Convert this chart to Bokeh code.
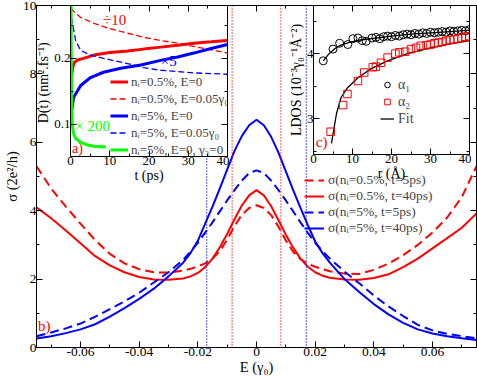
from bokeh.plotting import figure
from bokeh.models import (Range1d, LinearAxis, FixedTicker, Legend, LegendItem,
                          Label, Span, GridBox)
from bokeh.embed import file_html
from bokeh.resources import INLINE

FONT = "serif"
LEG_FONT = "Times New Roman"
RED = "#ff0000"
BLUE = "#0000ff"
GREEN = "#00ff00"

# ---------------- main panel b) ----------------
E = [-0.075, -0.07, -0.065, -0.06, -0.055, -0.05, -0.045, -0.04, -0.035, -0.03,
     -0.025, -0.0225, -0.02, -0.0175, -0.015, -0.0125, -0.01, -0.0075, -0.005, -0.0025,
     0.0,
     0.0025, 0.005, 0.0075, 0.01, 0.0125, 0.015, 0.0175, 0.02, 0.0225, 0.025,
     0.03, 0.035, 0.04, 0.045, 0.05, 0.055, 0.06, 0.065, 0.07, 0.075]
sig_ni05_t5 = [5.3, 4.65, 4.12, 3.62, 3.14, 2.74, 2.46, 2.29, 2.2, 2.19,
               2.25, 2.3, 2.37, 2.46, 2.6, 2.82, 3.15, 3.55, 3.88, 4.08,
               4.16,
               4.08, 3.87, 3.53, 3.13, 2.8, 2.58, 2.45, 2.36, 2.29, 2.23,
               2.16, 2.15, 2.27, 2.45, 2.7, 3.0, 3.36, 3.8, 4.4, 5.3]
sig_ni05_t40 = [4.1, 3.78, 3.42, 3.05, 2.67, 2.4, 2.2, 2.06, 1.99, 1.98,
                2.02, 2.08, 2.18, 2.35, 2.6, 2.93, 3.32, 3.75, 4.15, 4.45,
                4.6,
                4.45, 4.13, 3.72, 3.3, 2.92, 2.6, 2.36, 2.2, 2.1, 2.04,
                1.99, 1.98, 2.03, 2.14, 2.35, 2.6, 2.9, 3.2, 3.5, 3.92]
sig_ni5_t5 = [0.33, 0.44, 0.56, 0.7, 0.9, 1.12, 1.35, 1.6, 1.9, 2.2,
              2.56, 2.8, 3.06, 3.36, 3.66, 3.98, 4.3, 4.6, 4.88, 5.1,
              5.18,
              5.1, 4.88, 4.6, 4.3, 3.98, 3.66, 3.35, 3.06, 2.82, 2.6,
              2.22, 1.88, 1.52, 1.2, 0.92, 0.66, 0.5, 0.4, 0.33, 0.27]
sig_ni5_t40 = [0.26, 0.33, 0.42, 0.53, 0.68, 0.9, 1.15, 1.42, 1.72, 2.08,
               2.48, 2.76, 3.12, 3.62, 4.12, 4.65, 5.2, 5.75, 6.18, 6.5,
               6.66,
               6.5, 6.16, 5.7, 5.15, 4.6, 4.08, 3.58, 3.1, 2.76, 2.48,
               2.0, 1.62, 1.27, 0.97, 0.72, 0.53, 0.41, 0.33, 0.27, 0.22]
E_red_dotted = [-0.0083, 0.0083]
E_blue_dotted = [-0.017, 0.017]
main_xticks = [-0.06, -0.04, -0.02, 0.0, 0.02, 0.04, 0.06]
main_xtick_labels = ["-0.06", "-0.04", "-0.02", "0", "0.02", "0.04", "0.06"]
main_xminor = [-0.07, -0.05, -0.03, -0.01, 0.01, 0.03, 0.05, 0.07]
main_yticks = [0, 2, 4, 6, 8, 10]
main_yminor = [1, 3, 5, 7, 9]
main_legend_labels = ["σ(nᵢ=0.5%, t=5ps)", "σ(nᵢ=0.5%, t=40ps)",
                      "σ(nᵢ=5%, t=5ps)", "σ(nᵢ=5%, t=40ps)"]

# ---------------- inset a) D(t) ----------------
t_ni05_E0 = [0.1, 0.3, 0.6, 1.0, 2.0, 3.3, 6.0, 10.0, 14.6, 18.6, 23.0, 27.3, 31.4, 35.8, 40.0]
D_ni05_E0 = [0.152, 0.175, 0.187, 0.194, 0.198, 0.2, 0.205, 0.209, 0.211, 0.214, 0.217, 0.22, 0.223, 0.225, 0.227]
t_ni05_E005 = [0.1, 1.0, 2.6, 6.0, 10.0, 14.6, 18.6, 23.0, 27.3, 31.4, 35.8, 40.0]
D_ni05_E005 = [0.276, 0.27, 0.262, 0.253, 0.245, 0.238, 0.232, 0.227, 0.223, 0.218, 0.213, 0.208]
t_ni5_E0 = [0.3, 0.8, 2.6, 5.1, 8.4, 12.8, 17.9, 23.0, 27.3, 31.4, 35.8, 40.0]
D_ni5_E0 = [0.121, 0.141, 0.159, 0.171, 0.179, 0.185, 0.19, 0.197, 0.202, 0.208, 0.215, 0.221]
t_ni5_E005 = [0.2, 0.6, 1.3, 2.6, 5.1, 8.4, 14.6, 18.6, 23.0, 31.4, 40.0]
D_ni5_E005 = [0.262, 0.25, 0.227, 0.212, 0.205, 0.2, 0.192, 0.186, 0.182, 0.178, 0.176]
t_ni5_g3 = [0.15, 0.2, 0.3, 0.45, 0.7, 1.3, 2.6, 4.3, 6.0, 9.0]
D_ni5_g3 = [0.29, 0.2, 0.13, 0.1, 0.088, 0.079, 0.073, 0.069, 0.067, 0.066]
a_xticks = [0, 10, 20, 30, 40]
a_xminor = [5, 15, 25, 35]
a_yticks = [0.1, 0.2]
a_yminor = [0.15, 0.25]
a_legend_labels = ["nᵢ=0.5%, E=0", "nᵢ=0.5%, E=0.05γ₀", "nᵢ=5%, E=0",
                   "nᵢ=5%, E=0.05γ₀", "nᵢ=5%, E=0, γ₃=0"]

# ---------------- inset c) LDOS ----------------
r_alpha1 = [2.5, 5, 6.7, 8.8, 10.1, 11.4, 12.5, 13.5, 15, 16, 17, 18, 19, 20, 21, 22, 23,
            24, 25, 26, 27, 28, 29, 30, 31, 32, 33, 34, 35, 36, 37, 38, 39, 40]
ldos_alpha1 = [3.89, 4.07, 4.16, 4.14, 4.23, 4.24, 4.2, 4.19, 4.24, 4.25, 4.23, 4.26, 4.27,
               4.26, 4.28, 4.27, 4.29, 4.3, 4.29, 4.31, 4.3, 4.32, 4.31, 4.33, 4.32, 4.33,
               4.34, 4.33, 4.35, 4.34, 4.35, 4.36, 4.35, 4.37]
r_alpha2 = [4.4, 7.6, 8.7, 11.4, 13, 15.2, 16, 17.3, 19, 21, 22, 23.5, 25, 26.3, 27.5, 29,
            30, 31, 32, 33, 34, 35, 36, 37, 38, 39, 40]
ldos_alpha2 = [2.8, 3.21, 3.38, 3.58, 3.71, 3.79, 3.8, 3.86, 3.94, 4.0, 4.02, 4.03, 4.07,
               4.09, 4.12, 4.13, 4.14, 4.16, 4.17, 4.18, 4.2, 4.21, 4.22, 4.23, 4.24, 4.26, 4.27]
r_fit1 = [2.5, 4, 5.5, 7, 9, 12, 16, 20, 25, 30, 35, 40]
ldos_fit1 = [3.89, 4.0, 4.08, 4.13, 4.17, 4.21, 4.24, 4.27, 4.3, 4.32, 4.34, 4.36]
r_fit2 = [4.6, 5.9, 7.1, 8.8, 11.4, 14.8, 19, 24.1, 30, 35, 40]
ldos_fit2 = [2.62, 3.08, 3.33, 3.48, 3.63, 3.77, 3.89, 4.0, 4.09, 4.15, 4.2]
c_xticks = [0, 10, 20, 30, 40]
c_xminor = [5, 15, 25, 35]
c_yticks = [3, 4]
c_yminor = [2.5, 3.5, 4.5]
c_legend_labels = ["α₁", "α₂", "Fit"]


def mirror_axis(p, side, ticks, length):
    # label-free axis: only (minor) tick marks, pointing into the frame
    ax = LinearAxis(ticker=FixedTicker(ticks=[], minor_ticks=ticks),
                    minor_tick_in=length, minor_tick_out=0,
                    major_tick_in=0, major_tick_out=0,
                    major_label_standoff=0,
                    axis_line_color="black", minor_tick_line_color="black")
    p.add_layout(ax, side)


def setup_axes(p, xticks, xminor, yticks, yminor, xlabel, ylabel,
               lab_size="13px", title_size="14px"):
    if "frame_align" in p.properties():
        p.frame_align = False
    bx, ly = p.below[0], p.left[0]
    bx.ticker = FixedTicker(ticks=xticks, minor_ticks=xminor)
    ly.ticker = FixedTicker(ticks=yticks, minor_ticks=yminor)
    for ax in (bx, ly):
        ax.major_tick_in = 6
        ax.major_tick_out = 0
        ax.minor_tick_in = 3
        ax.minor_tick_out = 0
        ax.axis_line_color = "black"
        ax.major_tick_line_color = "black"
        ax.minor_tick_line_color = "black"
        ax.major_label_text_font = FONT
        ax.major_label_text_font_size = lab_size
        ax.major_label_text_color = "black"
        ax.axis_label_text_font = FONT
        ax.axis_label_text_font_style = "normal"
        ax.axis_label_text_font_size = title_size
        ax.axis_label_text_color = "black"
        ax.major_label_standoff = 0
        ax.axis_label_standoff = 0
    bx.axis_label = xlabel
    ly.axis_label = ylabel
    p.grid.grid_line_color = None
    p.outline_line_color = "black"
    mirror_axis(p, "right", yticks, 6)
    mirror_axis(p, "right", yminor, 3)
    mirror_axis(p, "above", xticks, 6)
    mirror_axis(p, "above", xminor, 3)
    return bx, ly


def make_legend(items, loc, size, gw, row_h, standoff=4):
    return Legend(items=items, location=loc, background_fill_alpha=0,
                  border_line_color=None, label_text_font=LEG_FONT,
                  label_text_font_size=size, glyph_width=gw, glyph_height=row_h,
                  label_height=row_h, spacing=0, padding=0, margin=0,
                  label_standoff=standoff)


# ----- main figure -----
p = figure(width=477, height=377, x_range=Range1d(-0.075, 0.075), y_range=Range1d(0, 10),
           output_backend="svg", toolbar_location=None,
           min_border_left=30, min_border_right=1, min_border_top=5, min_border_bottom=28)
p.background_fill_color = "white"
p.border_fill_color = "white"
bx, ly = setup_axes(p, main_xticks, main_xminor, main_yticks, main_yminor,
                    "E (γ₀)", "σ (2e²/h)", lab_size="13.5px", title_size="14.5px")
bx.major_label_overrides = dict(zip(main_xticks, main_xtick_labels))

for e in E_red_dotted:
    p.add_layout(Span(location=e, dimension="height", line_color=RED,
                      line_dash="1 2", line_width=1.3))
for e in E_blue_dotted:
    p.add_layout(Span(location=e, dimension="height", line_color=BLUE,
                      line_dash="1 2", line_width=1.3))

m1 = p.line(E, sig_ni05_t5, line_color=RED, line_width=2, line_dash="9 5")
m2 = p.line(E, sig_ni05_t40, line_color=RED, line_width=2)
m3 = p.line(E, sig_ni5_t5, line_color=BLUE, line_width=2, line_dash="9 5")
m4 = p.line(E, sig_ni5_t40, line_color=BLUE, line_width=2)
p.add_layout(make_legend([LegendItem(label=l, renderers=[r]) for l, r in
                          zip(main_legend_labels, [m1, m2, m3, m4])],
                         (268, 111), "13.5px", 20, 14))
p.add_layout(Label(x=-0.0745, y=0.4, text="b)", text_color=RED, text_font=FONT,
                   text_font_size="15px"))

# ----- inset a) -----
pa = figure(width=203, height=187, x_range=Range1d(0, 40), y_range=Range1d(0.0515, 0.28),
            output_backend="svg", toolbar_location=None,
            min_border_left=44, min_border_right=2, min_border_top=5, min_border_bottom=31)
pa.border_fill_color = None
pa.background_fill_color = "white"
pa.margin = (0, 0, 0, 26)
setup_axes(pa, a_xticks, a_xminor, a_yticks, a_yminor, "t (ps)", "D(t)  (nm².fs⁻¹)")

a1 = pa.line(t_ni05_E0, D_ni05_E0, line_color=RED, line_width=3)
a2 = pa.line(t_ni05_E005, D_ni05_E005, line_color=RED, line_width=1.3, line_dash="6 3")
a3 = pa.line(t_ni5_E0, D_ni5_E0, line_color=BLUE, line_width=3)
a4 = pa.line(t_ni5_E005, D_ni5_E005, line_color=BLUE, line_width=1.3, line_dash="6 3")
a5 = pa.line(t_ni5_g3, D_ni5_g3, line_color=GREEN, line_width=3)
pa.add_layout(make_legend([LegendItem(label=l, renderers=[r]) for l, r in
                           zip(a_legend_labels, [a1, a2, a3, a4, a5])],
                          (40, -2), "13px", 18, 17, 3))
pa.add_layout(Label(x=8.3, y=0.246, text="÷10", text_color=RED, text_font=FONT,
                    text_font_size="15px"))
pa.add_layout(Label(x=23, y=0.184, text="×5", text_color=BLUE, text_font=FONT,
                    text_font_size="15px"))
pa.add_layout(Label(x=1.2, y=0.085, text="× 200", text_color=GREEN, text_font=FONT,
                    text_font_size="15px"))
pa.add_layout(Label(x=0.4, y=0.053, text="a)", text_color=RED, text_font=FONT,
                    text_font_size="14px"))

# ----- inset c) -----
pc = figure(width=218, height=184, x_range=Range1d(0, 40), y_range=Range1d(2.45, 4.74),
            output_backend="svg", toolbar_location=None,
            min_border_left=60, min_border_right=2, min_border_top=5, min_border_bottom=30)
pc.border_fill_color = None
pc.background_fill_color = "white"
pc.margin = (0, 0, 0, 253)
setup_axes(pc, c_xticks, c_xminor, c_yticks, c_yminor, "r (Å)", "LDOS (10⁻³γ₀⁻¹Å⁻²)")

pc.line(r_fit1, ldos_fit1, line_color="black", line_width=1.3)
c3 = pc.line(r_fit2, ldos_fit2, line_color="black", line_width=1.3)
c1 = pc.scatter(r_alpha1, ldos_alpha1, marker="circle", size=8, fill_color=None,
                line_color="black", line_width=1)
c2 = pc.scatter(r_alpha2, ldos_alpha2, marker="square", size=7.5, fill_color=None,
                line_color=RED, line_width=1)
pc.add_layout(make_legend([LegendItem(label=l, renderers=[r]) for l, r in
                           zip(c_legend_labels, [c1, c2, c3])],
                          (67, 27), "14px", 14, 17))
pc.add_layout(Label(x=0.6, y=2.52, text="c)", text_color=RED, text_font=FONT,
                    text_font_size="15px"))

layout = GridBox(children=[(p, 0, 0), (pa, 0, 0), (pc, 0, 0)])

open("out.html", "w").write(file_html(layout, INLINE))
